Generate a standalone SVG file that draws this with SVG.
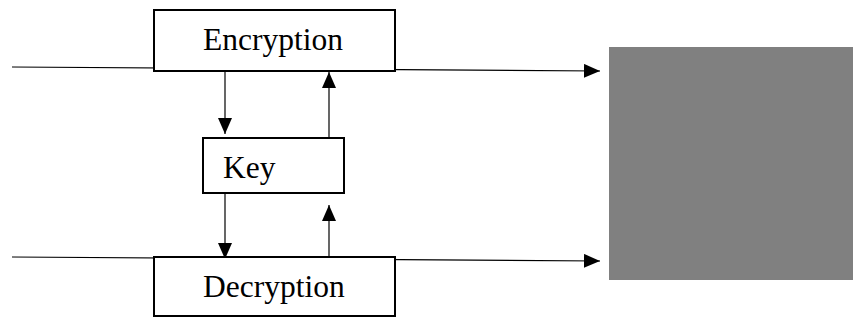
<svg xmlns="http://www.w3.org/2000/svg" width="853" height="320" viewBox="0 0 853 320">
<defs>
<style>
.box{fill:#fff;stroke:#000;stroke-width:2}
.lbl{font-family:"Liberation Serif","Times New Roman",serif;font-size:31.5px;fill:#000}
.ln{stroke:#000;stroke-width:1.2;fill:none}
</style>
<marker id="ah" viewBox="0 0 16 14" refX="16" refY="7" markerWidth="16" markerHeight="14" markerUnits="userSpaceOnUse" orient="auto">
<path d="M0,0 L16,7 L0,14 Z" fill="#000"/>
</marker>
</defs>
<rect width="853" height="320" fill="#fff"/>
<g id="connectors">
<line class="ln" x1="12" y1="67" x2="600" y2="71" marker-end="url(#ah)"/>
<line class="ln" x1="12" y1="257" x2="600" y2="261" marker-end="url(#ah)"/>
<line class="ln" x1="225" y1="67" x2="225" y2="134" marker-end="url(#ah)"/>
<line class="ln" x1="329" y1="138" x2="329" y2="72" marker-end="url(#ah)"/>
<line class="ln" x1="225" y1="193" x2="225" y2="259" marker-end="url(#ah)"/>
<line class="ln" x1="329" y1="261" x2="329" y2="205" marker-end="url(#ah)"/>
</g>
<g id="encryption">
<rect class="box" x="154" y="10" width="241" height="61"/>
<text class="lbl" x="203" y="50">Encryption</text>
</g>
<g id="key">
<rect class="box" x="203" y="138" width="141" height="55"/>
<text class="lbl" x="223" y="178">Key</text>
</g>
<g id="decryption">
<rect class="box" x="154" y="257" width="241" height="59"/>
<text class="lbl" x="203" y="297">Decryption</text>
</g>
<g id="gray">
<rect x="609" y="47" width="244" height="233" fill="#808080"/>
</g>
</svg>
